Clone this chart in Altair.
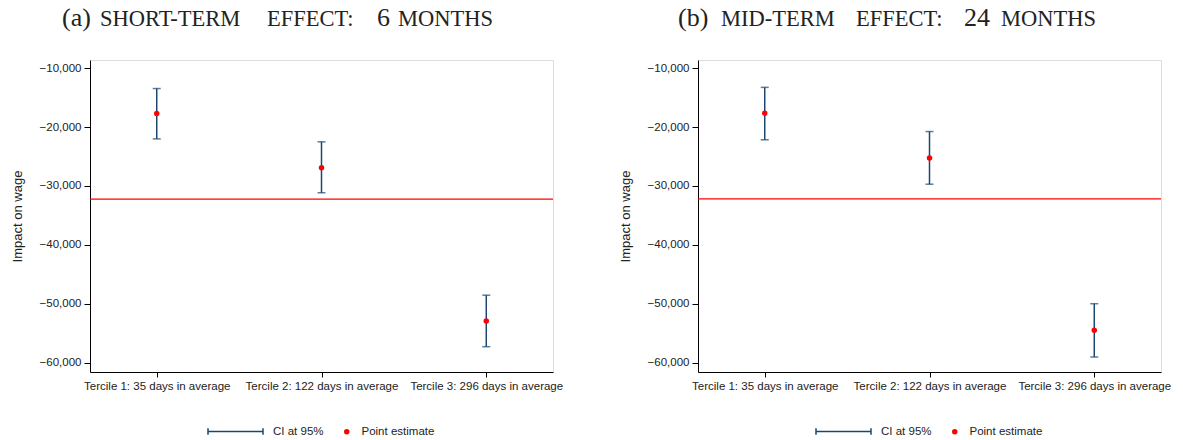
import altair as alt
import pandas as pd

categories = [
    "Tercile 1: 35 days in average",
    "Tercile 2: 122 days in average",
    "Tercile 3: 296 days in average",
]

# (a) short-term effect: 6 months
short_est = [-17700, -26900, -52950]
short_lo = [-22000, -31150, -57300]
short_hi = [-13450, -22500, -48550]
short_ref = -32250

# (b) mid-term effect: 24 months
mid_est = [-17650, -25250, -54500]
mid_lo = [-22150, -29700, -59050]
mid_hi = [-13250, -20750, -50000]
mid_ref = -32200

y_ticks = [-10000, -20000, -30000, -40000, -50000, -60000]
y_domain = [-61600, -8600]

ci_label = "CI at 95%"
pe_label = "Point estimate"

title_a = [("(a)", 26), ("SHORT-TERM", 22.5), ("EFFECT:", 22.5), ("6", 26), ("MONTHS", 22.5)]
title_a_x = [-28, 10, 177, 287, 308]
title_b = [("(b)", 26), ("MID-TERM", 22.5), ("EFFECT:", 22.5), ("24", 26), ("MONTHS", 22.5)]
title_b_x = [-20, 23, 158, 266, 303]

NAVY = "#1a476f"
W, H = 463, 312
SANS = "Liberation Sans"
SERIF = "Liberation Serif"

CI_PATH = "M-1,0H1M-1,-0.12V0.12M1,-0.12V0.12"


def panel(est, lo, hi, ref, parts, parts_x):
    df = pd.DataFrame({"cat": categories, "est": est, "lo": lo, "hi": hi,
                       "ci": [ci_label] * 3, "pe": [pe_label] * 3})
    x = alt.X("cat:N", sort=categories,
              scale=alt.Scale(type="point", padding=0.405),
              axis=alt.Axis(title=None, labelAngle=0, labelOverlap=False,
                            tickSize=5, labelPadding=3, labelFontSize=11.5,
                            labelFont=SANS, labelColor="#222",
                            domainColor="black", tickColor="black", grid=False))
    yscale = alt.Scale(domain=y_domain, nice=False, zero=False)
    yaxis = alt.Axis(title="Impact on wage", values=y_ticks, format=",d",
                     tickSize=6, labelPadding=3, labelFontSize=11.5, labelFont=SANS,
                     labelColor="#222", titleFont=SANS, titleFontSize=13,
                     titleFontWeight="normal", titleColor="#222", titlePadding=15,
                     domainColor="black", tickColor="black", grid=False)

    def Y(f):
        return alt.Y(f, scale=yscale, axis=yaxis)

    ref_df = pd.DataFrame({"ref": [ref]})
    refline = alt.Chart(ref_df).mark_rule(color="#ff0000", strokeWidth=1.2).encode(y=Y("ref:Q"))

    bars = alt.Chart(df).mark_rule(strokeWidth=1.5).encode(
        x=x, y=Y("lo:Q"), y2="hi:Q",
        color=alt.Color("ci:N", scale=alt.Scale(range=[NAVY]),
                        legend=alt.Legend(orient="none", legendX=117, legendY=343,
                                          title=None, symbolType=CI_PATH, symbolSize=3025,
                                          symbolStrokeWidth=1.5, labelOffset=9,
                                          labelFontSize=11.5, labelFont=SANS,
                                          labelColor="#222", padding=0)))
    cap_lo = alt.Chart(df).mark_tick(size=8, thickness=1.5, color=NAVY).encode(x=x, y=Y("lo:Q"))
    cap_hi = alt.Chart(df).mark_tick(size=8, thickness=1.5, color=NAVY).encode(x=x, y=Y("hi:Q"))

    points = alt.Chart(df).mark_circle(size=30, opacity=1).encode(
        x=x, y=Y("est:Q"),
        fill=alt.Fill("pe:N", scale=alt.Scale(range=["#ff0000"]),
                      legend=alt.Legend(orient="none", legendX=251, legendY=366,
                                        title=None, symbolType="circle", symbolSize=30,
                                        labelOffset=9, labelFontSize=11.5, labelFont=SANS,
                                        labelColor="#222", padding=0)))

    texts = []
    for (txt, fs), px in zip(parts, parts_x):
        texts.append(
            alt.Chart(pd.DataFrame({"t": [txt]})).mark_text(
                align="left", baseline="alphabetic", font=SERIF, fontSize=fs,
                color="#222").encode(x=alt.value(px), y=alt.value(-34), text="t:N"))

    return alt.layer(refline, bars, cap_lo, cap_hi, points, *texts).properties(width=W, height=H)


left = panel(short_est, short_lo, short_hi, short_ref, title_a, title_a_x)
right = panel(mid_est, mid_lo, mid_hi, mid_ref, title_b, title_b_x)

chart = alt.HConcatChart(hconcat=[left, right], spacing=145, bounds="flush").resolve_scale(
    color="independent", fill="independent"
).properties(
    autosize=alt.AutoSizeParams(type="pad"),
    padding={"left": 10, "top": 4, "right": 0, "bottom": 0},
).configure_view(stroke="#666", strokeWidth=1).configure(background="white")

chart.save("out.html", embed_options={"renderer": "svg", "actions": False})
